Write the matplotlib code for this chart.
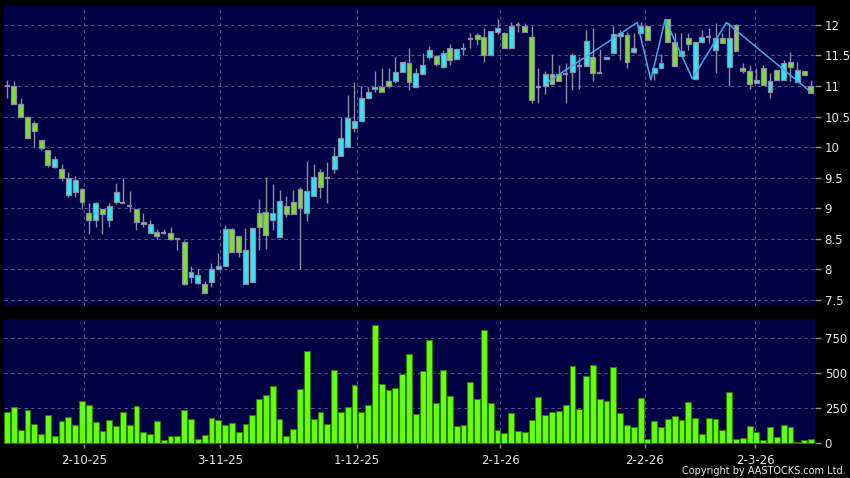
import matplotlib
matplotlib.use("Agg")
import matplotlib.pyplot as plt
import numpy as np

# ---------------- data ----------------
opens = [11.00, 11.00, 10.70, 10.49, 10.39, 10.11, 9.95, 9.67, 9.65, 9.21,
         9.26, 9.31, 8.92, 8.80, 8.99, 8.80, 9.10, 9.09, 9.04, 8.99,
         8.78, 8.60, 8.61, 8.60, 8.59, 8.49, 8.44, 7.88, 7.78, 7.76,
         7.80, 8.01, 8.05, 8.66, 8.54, 7.76, 7.80, 8.93, 8.94, 8.81,
         8.53, 9.03, 9.10, 9.31, 8.93, 9.20, 9.59, 9.50, 9.65, 9.86,
         10.00, 10.31, 10.42, 10.80, 10.95, 10.99, 11.09, 11.09, 11.23, 11.37,
         10.99, 11.20, 11.48, 11.49, 11.31, 11.63, 11.44, 11.60, 11.77, 11.84,
         11.80, 11.50, 11.89, 11.86, 11.62, 12.00, 11.99, 11.81, 10.99, 11.00,
         11.19, 11.19, 11.20, 11.23, 11.33, 11.32, 11.48, 11.21, 11.44, 11.54,
         11.82, 11.84, 11.56, 11.87, 11.98, 11.21, 11.30, 12.09, 11.72, 11.49,
         11.79, 11.12, 11.72, 11.81, 11.59, 11.78, 11.31, 12.00, 11.30, 11.25,
         11.05, 11.29, 10.91, 11.26, 11.10, 11.39, 11.07, 11.25, 11.00]
highs = [11.10, 11.08, 10.80, 10.51, 10.43, 10.12, 9.96, 9.85, 9.72, 9.59,
         9.53, 9.33, 9.08, 9.11, 8.99, 9.08, 9.41, 9.49, 9.29, 8.99,
         8.92, 8.80, 8.66, 8.66, 8.69, 8.49, 8.48, 8.06, 8.00, 7.81,
         8.10, 8.26, 8.72, 8.68, 8.54, 8.67, 8.70, 9.15, 9.51, 9.40,
         9.30, 9.20, 9.30, 9.35, 9.77, 9.73, 9.65, 9.75, 10.00, 10.49,
         10.85, 11.06, 11.00, 10.99, 11.25, 11.29, 11.29, 11.47, 11.40, 11.63,
         11.29, 11.54, 11.65, 11.51, 11.59, 11.68, 11.60, 11.70, 11.86, 11.86,
         11.95, 11.90, 12.10, 11.89, 12.04, 12.04, 12.03, 11.98, 11.29, 11.24,
         11.52, 11.35, 11.37, 11.54, 11.48, 11.91, 11.95, 11.61, 11.48, 11.99,
         11.91, 11.89, 11.86, 12.05, 11.98, 11.30, 11.52, 12.09, 11.86, 11.86,
         11.86, 11.72, 11.91, 11.95, 12.03, 11.87, 12.03, 12.02, 11.37, 11.34,
         11.29, 11.34, 11.22, 11.26, 11.42, 11.56, 11.39, 11.25, 11.10]
lows = [10.80, 10.70, 10.49, 10.15, 10.01, 9.96, 9.68, 9.66, 9.45, 9.19,
        9.19, 8.99, 8.58, 8.70, 8.58, 8.70, 9.07, 9.08, 8.94, 8.64,
        8.70, 8.59, 8.49, 8.58, 8.48, 8.32, 7.74, 7.77, 7.76, 7.62,
        7.71, 8.01, 8.05, 8.29, 8.21, 7.76, 7.80, 8.31, 8.34, 8.65,
        8.53, 8.86, 8.90, 8.00, 8.79, 9.20, 9.16, 9.09, 9.58, 9.86,
        10.00, 10.25, 10.42, 10.78, 10.91, 10.91, 10.97, 11.05, 11.23, 10.94,
        10.99, 11.20, 11.45, 11.33, 11.29, 11.35, 11.44, 11.51, 11.62, 11.67,
        11.40, 11.50, 11.85, 11.62, 11.62, 11.89, 11.89, 10.72, 10.72, 10.87,
        11.03, 11.09, 10.72, 10.94, 10.95, 11.32, 11.09, 11.21, 11.44, 11.54,
        11.43, 11.29, 11.54, 11.87, 11.75, 11.10, 11.28, 11.72, 11.32, 11.49,
        11.59, 11.12, 11.70, 11.70, 11.21, 11.70, 11.00, 11.57, 11.21, 10.95,
        11.05, 11.01, 10.80, 11.10, 11.10, 11.09, 11.07, 11.18, 10.89]
closes = [11.00, 10.70, 10.49, 10.15, 10.27, 9.99, 9.70, 9.80, 9.50, 9.49,
          9.46, 9.10, 8.80, 9.08, 8.90, 9.04, 9.26, 9.09, 9.04, 8.78,
          8.75, 8.74, 8.54, 8.60, 8.49, 8.49, 7.76, 7.95, 7.91, 7.62,
          8.00, 8.06, 8.66, 8.29, 8.29, 8.31, 8.67, 8.69, 8.56, 8.93,
          9.12, 8.91, 8.90, 9.00, 9.29, 9.51, 9.34, 9.50, 9.86, 10.15,
          10.48, 10.42, 10.80, 10.90, 10.99, 10.91, 11.00, 11.23, 11.40, 11.07,
          11.22, 11.35, 11.59, 11.36, 11.54, 11.42, 11.60, 11.60, 11.77, 11.77,
          11.50, 11.90, 11.95, 11.62, 11.98, 12.00, 11.89, 10.77, 10.99, 11.19,
          11.03, 11.09, 11.20, 11.50, 11.33, 11.74, 11.21, 11.21, 11.48, 11.85,
          11.86, 11.40, 11.63, 11.98, 11.75, 11.30, 11.37, 11.72, 11.33, 11.58,
          11.68, 11.72, 11.81, 11.81, 11.78, 11.70, 11.79, 11.57, 11.24, 11.03,
          11.10, 11.01, 11.08, 11.10, 11.38, 11.31, 11.26, 11.18, 10.89]
volumes = [219, 260, 90, 238, 133, 64, 200, 52, 155, 188,
           129, 298, 269, 152, 86, 164, 121, 221, 126, 264,
           79, 67, 157, 24, 48, 50, 238, 171, 29, 57,
           176, 167, 131, 140, 76, 133, 198, 314, 340, 407,
           169, 50, 100, 383, 657, 169, 221, 133, 524, 221,
           257, 417, 221, 274, 843, 419, 379, 395, 493, 638,
           207, 514, 736, 288, 519, 336, 121, 131, 438, 314,
           807, 288, 93, 74, 214, 88, 79, 167, 326, 202,
           221, 231, 271, 550, 240, 481, 555, 314, 302, 540,
           217, 126, 112, 321, 31, 155, 114, 169, 193, 164,
           290, 179, 62, 176, 171, 95, 367, 29, 38, 119,
           76, 21, 112, 40, 126, 114, 10, 19, 31]

# indicator line
line_x = [79.3, 92.5, 94.5, 96.6, 100.6, 105.6, 117.9]
line_y = [11.06, 12.04, 11.10, 12.09, 11.12, 12.04, 10.91]

date_labels = ["2-10-25", "3-11-25", "1-12-25", "2-1-26", "2-2-26", "2-3-26"]
date_pos = [11.3, 31.3, 51.4, 72.4, 93.6, 109.8]

price_ticks = [7.5, 8, 8.5, 9, 9.5, 10, 10.5, 11, 11.5, 12]
price_labels = ["7.5", "8", "8.5", "9", "9.5", "10", "10.5", "11", "11.5", "12"]
vol_ticks = [0, 250, 500, 750]

# ---------------- style ----------------
BG = "#000044"
GRID = "#55558c"
UP = "#33e6f4"
DOWN = "#80de30"
EDGE = "#8c8ca4"
VOL = "#66ff10"
VOLEDGE = "#2d7a00"
TXT = "#e8e8e8"

W, H = 850, 478
fig = plt.figure(figsize=(W / 100, H / 100), dpi=100, facecolor="black")

def fx(px):
    return px / W

def fy(py):
    return 1 - py / H

ax = fig.add_axes([fx(4), fy(306), fx(815 - 4), fy(6) - fy(306)])
axv = fig.add_axes([fx(4), fy(444), fx(815 - 4), fy(319) - fy(444)])

n = len(opens)
x = np.arange(n)
xlim = (-0.45, n - 0.4)

for a in (ax, axv):
    a.set_facecolor(BG)
    a.set_xlim(*xlim)
    for s in a.spines.values():
        s.set_visible(False)
    a.yaxis.tick_right()
    a.tick_params(axis="y", colors=EDGE, labelcolor=TXT, length=4, width=1,
                  labelsize=8.5, pad=3)
    for p in date_pos:
        a.axvline(p, color=GRID, lw=0.8, ls=(0, (3, 3)), zorder=0)

# price panel
ax.set_ylim(7.40, 12.31)
ax.set_yticks(price_ticks)
ax.set_yticklabels(price_labels)
ax.set_xticks([])
for t in price_ticks:
    ax.axhline(t, color=GRID, lw=0.8, ls=(0, (3, 3)), zorder=0)

bw = 0.72
for i in range(n):
    o, h, l, c = opens[i], highs[i], lows[i], closes[i]
    ax.vlines(x[i], l, h, color=EDGE, lw=1.0, zorder=2)
    if abs(c - o) < 0.015:
        ax.hlines(o, x[i] - bw / 2, x[i] + bw / 2, color=EDGE, lw=1.6, zorder=3)
    else:
        col = UP if c > o else DOWN
        ax.bar(x[i], abs(c - o), bottom=min(o, c), width=bw, color=col,
               edgecolor=EDGE, linewidth=0.9, zorder=3)

ax.plot(line_x, line_y, color="#4ea8e8", lw=1.1, zorder=4)

# volume panel
axv.set_ylim(-7, 886)
axv.set_yticks(vol_ticks)
axv.set_yticklabels([str(v) for v in vol_ticks])
for t in vol_ticks[1:]:
    axv.axhline(t, color=GRID, lw=0.8, ls=(0, (3, 3)), zorder=0)
axv.bar(x, volumes, width=0.86, color=VOL, edgecolor=VOLEDGE, linewidth=0.8,
        zorder=3)
axv.set_xticks(date_pos)
axv.set_xticklabels(date_labels)
axv.tick_params(axis="x", colors=EDGE, labelcolor=TXT, length=3, width=1,
                labelsize=8.5, pad=4)

fig.text(fx(846), fy(471), "Copyright by AASTOCKS.com Ltd.", color=TXT,
         fontsize=7, ha="right", va="center")

fig.savefig("out.png", dpi=100, facecolor="black")
